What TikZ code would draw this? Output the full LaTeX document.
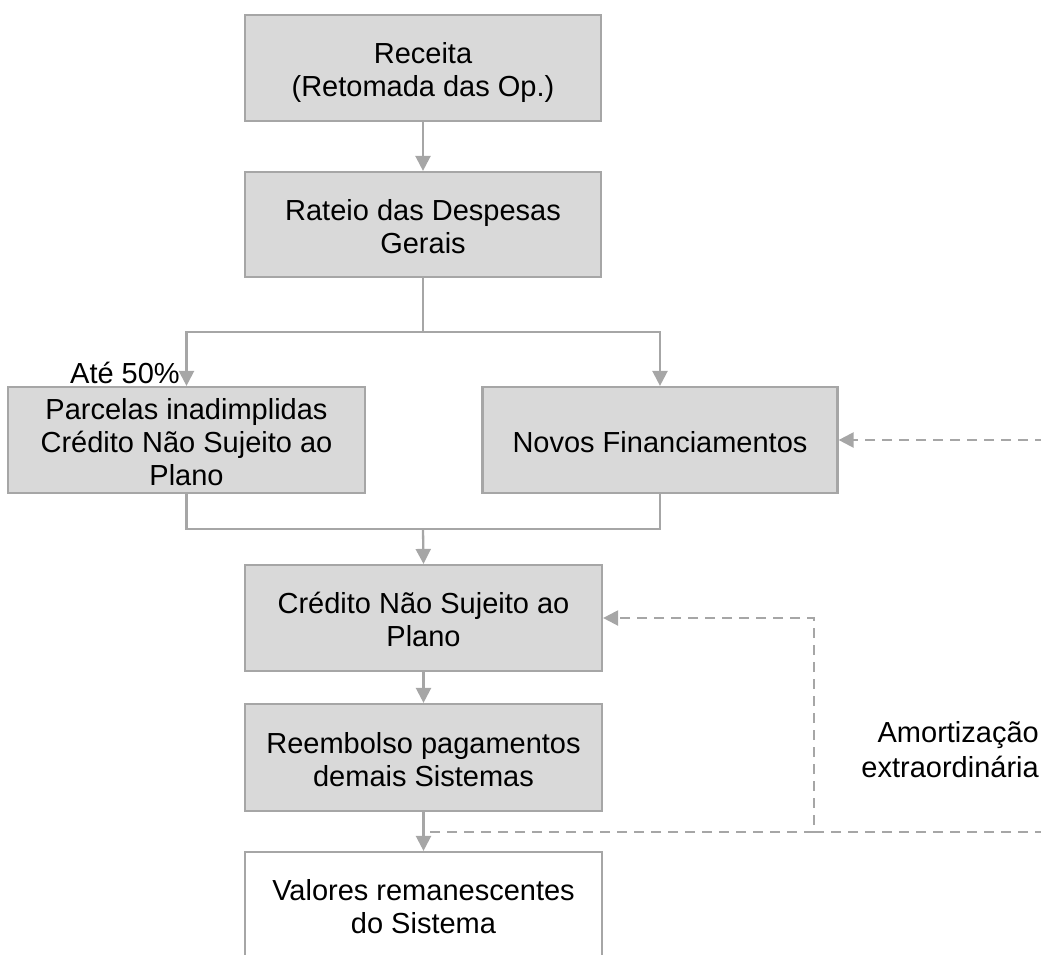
\documentclass[tikz,border=0pt]{standalone}
\usepackage{fontspec}
\setmainfont{Liberation Sans}
\usetikzlibrary{arrows.meta}
\definecolor{boxfill}{HTML}{D9D9D9}
\definecolor{lin}{HTML}{A6A6A6}
\newcommand\tS{\rule{0pt}{32pt}}
\newcommand\bS{\rule[-8pt]{0pt}{8pt}}
\tikzset{
  box/.style={draw=lin, line width=2.2pt, fill=boxfill, rectangle, inner sep=0pt,
    align=center, text=black, font=\fontsize{29}{33}\selectfont},
  wbox/.style={box, fill=white},
  conn/.style={draw=lin, line width=2.3pt, -{Triangle[length=15pt,width=15pt]}},
  plain/.style={draw=lin, line width=2.3pt},
  dconn/.style={conn, dash pattern=on 10pt off 7pt},
  dplain/.style={plain, dash pattern=on 10pt off 7pt},
  lbl/.style={inner sep=0pt, font=\fontsize{29}{35}\selectfont, text=black}
}
\begin{document}
\begin{tikzpicture}[x=1pt,y=-1pt]
\useasboundingbox (0,0) rectangle (1041,954);
\clip (0,0) rectangle (1041,954);
\node[box, minimum width=356pt, minimum height=106pt] (rec) at (423,68) {\tS Receita\\(Retomada das Op.)\bS};
\node[box, minimum width=356pt, minimum height=105pt] (rat) at (423,224.5) {\tS Rateio das Despesas\\Gerais\bS};
\node[box, minimum width=357pt, minimum height=106pt] (par) at (186.5,440) {\tS Parcelas inadimplidas\\Crédito Não Sujeito ao\\Plano\bS};
\node[box, minimum width=355pt, minimum height=106pt] (nov) at (660,440) {\tS Novos Financiamentos\bS};
\node[box, minimum width=357pt, minimum height=106pt] (cre) at (423.5,618) {\tS Crédito Não Sujeito ao\\Plano\bS};
\node[box, minimum width=357pt, minimum height=107pt] (ree) at (423.5,757.5) {\tS Reembolso pagamentos\\demais Sistemas\bS};
\node[wbox, minimum width=357pt, minimum height=106pt] (val) at (423.5,905) {\tS Valores remanescentes\\do Sistema\bS};

\coordinate (split) at (423,332);
\coordinate (merge) at (423,529);
\coordinate (rin) at (1045,440);
\coordinate (rin2) at (1045,832);
\coordinate (jn) at (814,832);

\draw[conn] (rec) -- (rat);
\draw[plain] (rat.south) -- (split);
\draw[conn] (split) -| (par.north);
\draw[conn] (split) -| (nov.north);
\draw[plain] (par.south) |- (merge);
\draw[plain] (nov.south) |- (merge);
\draw[conn] (merge) -- (cre.north);
\draw[conn] (cre) -- (ree);
\draw[conn] (ree) -- (val);

\draw[dconn] (rin) -- (nov.east);
\draw[dconn] (rin2) -- (jn) |- (cre.east);
\draw[dplain] (jn) -- (ree.south |- jn);

\node[lbl, anchor=base east] (ate) at (180,383) {Até 50\%};
\node[lbl, anchor=base east, align=right] (amo) at (1039,777) {Amortização\\extraordinária};
\end{tikzpicture}
\end{document}
